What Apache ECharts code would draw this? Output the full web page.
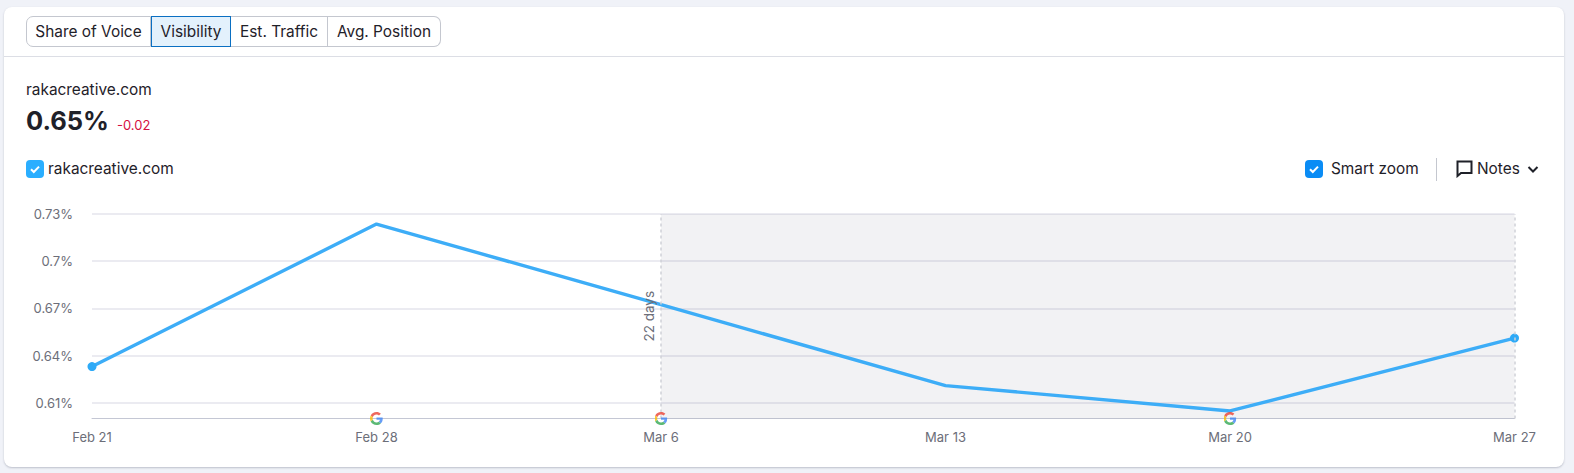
<!DOCTYPE html>
<html>
<head>
<meta charset="utf-8">
<title>Visibility</title>
<script src="https://cdn.jsdelivr.net/npm/echarts@6/dist/echarts.min.js"></script>
<style>
html, body { margin: 0; padding: 0; width: 1574px; height: 473px; background: #f0f2f8; overflow: hidden; font-family: Inter, sans-serif; color: #1f2129; }
#card { position: absolute; left: 4px; top: 7px; width: 1560px; height: 460px; background: #fff; border-radius: 8px; box-shadow: 0 1px 2px rgba(70, 75, 100, 0.3); }
#rule { position: absolute; left: 4px; top: 56px; width: 1560px; height: 1px; background: #dcdee5; }
#chart { position: absolute; left: 0; top: 0; width: 1574px; height: 473px; }
.tabs { position: absolute; left: 26px; top: 16px; height: 31px; display: flex; font-size: 15.4px; line-height: 29px; text-align: center; }
.tabs div { border: 1px solid #c4c7cf; border-left: none; box-sizing: border-box; height: 31px; white-space: nowrap; }
.tabs div:first-child { border-left: 1px solid #c4c7cf; border-radius: 7px 0 0 7px; width: 125px; }
.tabs div:last-child { border-radius: 0 7px 7px 0; width: 113px; }
.tabs .on { background: #e3f1fc; border: 1px solid #0a6fc2; width: 80px; }
.tabs .mid { width: 97px; }
.t { position: absolute; white-space: nowrap; }
.check { position: absolute; width: 18px; height: 18px; border-radius: 4px; }
.check svg, .icon { position: absolute; left: 0; top: 0; }
</style>
</head>
<body>
<div id="card"></div>
<div id="rule"></div>
<div class="tabs">
  <div>Share of Voice</div><div class="on">Visibility</div><div class="mid">Est. Traffic</div><div>Avg. Position</div>
</div>
<div class="t" style="left:26px;top:81px;font-size:15.4px;line-height:18px">rakacreative.com</div>
<div class="t" style="left:26px;top:105px;font-size:25.5px;line-height:32px;font-weight:700">0.65%</div>
<div class="t" style="left:117px;top:117px;font-size:13px;line-height:16px;color:#d5103f">-0.02</div>

<div class="check" style="left:26px;top:160px;background:#2aaeff">
  <svg width="18" height="18"><path d="M5 9.200l2.800 2.800 5.200-5.400" fill="none" stroke="#fff" stroke-width="2"/></svg>
</div>
<div class="t" style="left:48px;top:160px;font-size:15.4px;line-height:18px">rakacreative.com</div>

<div class="check" style="left:1305px;top:160px;background:#0a8cf5">
  <svg width="18" height="18"><path d="M5 9.200l2.800 2.800 5.200-5.400" fill="none" stroke="#fff" stroke-width="2"/></svg>
</div>
<div class="t" style="left:1331px;top:160px;font-size:15.4px;line-height:18px">Smart zoom</div>
<div style="position:absolute;left:1436px;top:158px;width:1px;height:23px;background:#c4c7cf"></div>
<svg class="icon" style="left:1456px;top:160px" width="17" height="18"><path d="M1.500 1.500h14v11.500H5L1.500 16z" fill="none" stroke="#1f2129" stroke-width="2"/></svg>
<div class="t" style="left:1477px;top:160px;font-size:15.4px;line-height:18px">Notes</div>
<svg class="icon" style="left:1527px;top:165px" width="12" height="9"><path d="M1.500 2l4.500 4.500L10.500 2" fill="none" stroke="#1f2129" stroke-width="2"/></svg>

<div id="chart"></div>
<script>
var dates = ['Feb 21', 'Feb 28', 'Mar 6', 'Mar 13', 'Mar 20', 'Mar 27'];
var visibility = [0.633, 0.7236, 0.6724, 0.6209, 0.6048, 0.6511];
var yTicks = [0.61, 0.64, 0.67, 0.7, 0.73];
var googleUpdates = ['Feb 28', 'Mar 6', 'Mar 20'];
var rangeStart = 'Mar 6';
var rangeEnd = 'Mar 27';
var rangeLabel = '22 days';

var googleIcon = 'image://data:image/svg+xml;charset=utf-8,' + encodeURIComponent(
    '<svg xmlns="http://www.w3.org/2000/svg" viewBox="0 0 48 48">' +
    '<path fill="#EA4335" d="M24 9.500c3.500 0 6.700 1.200 9.200 3.600l6.900-6.900C35.900 2.400 30.500 0 24 0 14.600 0 6.500 5.400 2.600 13.200l8 6.200C12.500 13.700 17.800 9.500 24 9.500z"/>' +
    '<path fill="#4285F4" d="M46.900 24.500c0-1.600-.1-3.100-.4-4.500H24v9h12.900c-.6 3-2.200 5.500-4.800 7.200l7.700 6c4.500-4.200 7.100-10.300 7.100-17.700z"/>' +
    '<path fill="#FBBC05" d="M10.500 28.600c-.5-1.400-.8-3-.8-4.600s.3-3.200.8-4.600l-8-6.200C.9 16.500 0 20.100 0 24s.9 7.500 2.600 10.800l7.900-6.200z"/>' +
    '<path fill="#34A853" d="M24 48c6.500 0 11.900-2.100 15.900-5.800l-7.700-6c-2.200 1.400-4.900 2.300-8.200 2.300-6.200 0-11.500-4.200-13.400-9.900l-8 6.200C6.500 42.600 14.600 48 24 48z"/>' +
    '</svg>');

var chart = echarts.init(document.getElementById('chart'), null, { renderer: 'svg' });
var option = {
    animation: false,
    backgroundColor: 'transparent',
    textStyle: { fontFamily: 'Inter' },
    grid: { left: 92, right: 59.5, top: 214, bottom: 54.5 },
    xAxis: {
        type: 'category',
        data: dates,
        boundaryGap: false,
        axisTick: { show: false },
        axisLine: { lineStyle: { color: '#c4c7d4', width: 1 } },
        axisLabel: { color: '#6c6e79', fontSize: 13, fontFamily: 'Inter', margin: 12, interval: 0, hideOverlap: false }
    },
    yAxis: {
        type: 'value',
        min: 0.6,
        max: 0.73,
        axisLine: { show: false },
        axisTick: { show: false, customValues: yTicks },
        axisLabel: {
            color: '#6c6e79', fontSize: 13, fontFamily: 'Inter', margin: 19,
            verticalAlignMinMax: 'middle',
            customValues: yTicks,
            padding: [0, 0, 4, 0],
            formatter: function (v) { return v + '%'; }
        },
        splitLine: { lineStyle: { color: '#e4e5ec', width: 1.5 } }
    },
    series: [{
        name: 'rakacreative.com',
        type: 'line',
        data: visibility,
        showAllSymbol: true,
        symbol: 'circle',
        symbolSize: function (v, p) {
            return (p.dataIndex === 0 || p.dataIndex === dates.length - 1) ? 9 : 0;
        },
        itemStyle: { color: '#2eaaf7' },
        lineStyle: { color: '#3dadf7', width: 3.4 },
        markArea: {
            silent: true,
            itemStyle: { color: 'rgba(90,92,120,0.08)' },
            data: [[{ xAxis: rangeStart }, { xAxis: rangeEnd }]]
        },
        markLine: {
            silent: true,
            symbol: 'none',
            lineStyle: { color: '#cfd1d8', type: [3, 3], width: 1.5 },
            data: [
                {
                    xAxis: rangeStart,
                    label: {
                        show: true, position: 'middle', formatter: rangeLabel,
                        color: '#6c6e79', fontSize: 13.5, fontFamily: 'Inter', distance: 5
                    }
                },
                { xAxis: rangeEnd, label: { show: false } }
            ]
        }
    }, {
        name: 'Google updates',
        type: 'scatter',
        data: googleUpdates.map(function (d) { return [d, 0.6]; }),
        symbol: googleIcon,
        symbolSize: 13,
        clip: false,
        silent: true,
        z: 5
    }]
};
chart.setOption(option);
</script>
</body>
</html>
